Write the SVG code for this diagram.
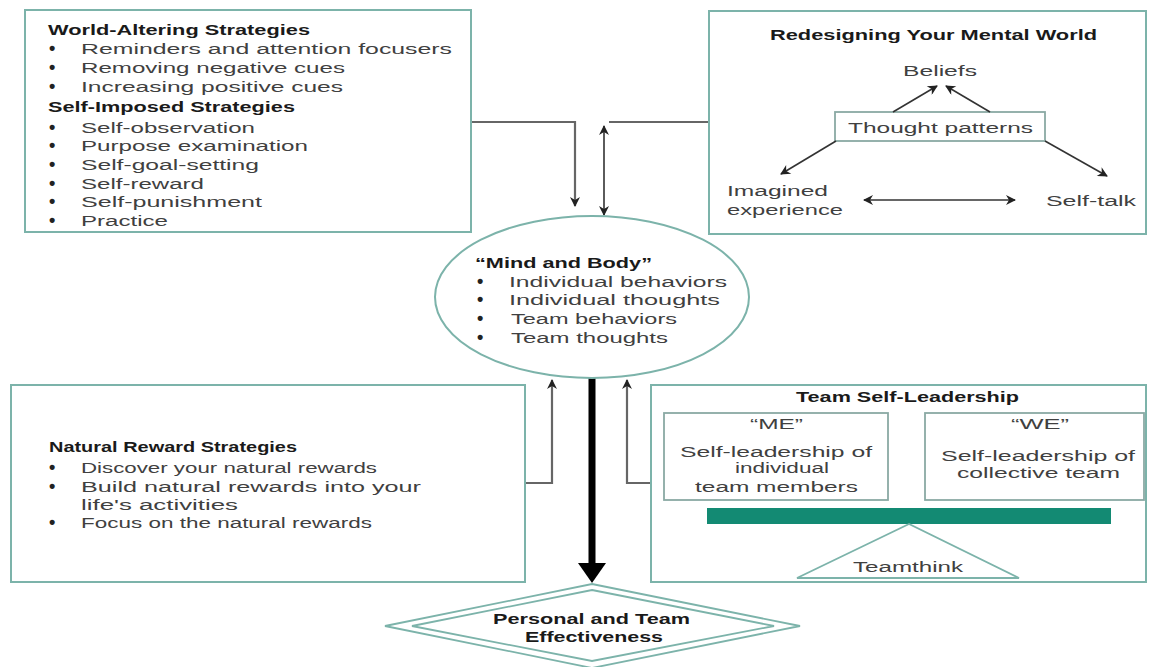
<svg xmlns="http://www.w3.org/2000/svg" width="1149" height="667" viewBox="0 0 1149 667">
<style>
.box{fill:#fff;stroke:#7cb3aa;stroke-width:2}
.inner{fill:#fff;stroke:#8aa9a4;stroke-width:1.8}
.t{font-family:"Liberation Sans",Arial,sans-serif;font-size:15.5px;fill:#404040}
.b{font-family:"Liberation Sans",Arial,sans-serif;font-size:15px;font-weight:bold;fill:#1a1a1a}
.c{text-anchor:middle}
.bl{font-family:"Liberation Sans",Arial,sans-serif;font-size:18px;font-weight:bold;fill:#222}
.ln{fill:none;stroke:#333;stroke-width:1.6}
.gl{fill:none;stroke:#666;stroke-width:2.2}
</style>
<defs>
<marker id="ah" viewBox="0 0 10 10" refX="9" refY="5" markerWidth="12" markerHeight="10" orient="auto-start-reverse" markerUnits="userSpaceOnUse">
<path d="M0,0 L10,5 L0,10 L3,5 z" fill="#222"/>
</marker>
</defs>
<rect width="1149" height="667" fill="#fff"/>

<g id="connectors">
<path class="gl" d="M471,122 H575 V206" marker-end="url(#ah)"/>
<line class="ln" x1="604" y1="126" x2="604" y2="215" marker-start="url(#ah)" marker-end="url(#ah)"/>
<path class="gl" d="M709,122 H609"/>
<path class="gl" d="M525,483 H552 V380" marker-end="url(#ah)"/>
<path class="gl" d="M651,483 H627 V380" marker-end="url(#ah)"/>
<line x1="592" y1="378" x2="592" y2="566" stroke="#000" stroke-width="7"/>
<polygon points="578,563 606,563 592,583" fill="#000"/>
</g>

<g id="world-altering">
<rect class="box" x="25" y="10" width="446" height="222"/>
<text class="b" x="48" y="35" textLength="262" lengthAdjust="spacingAndGlyphs">World-Altering Strategies</text>
<g class="bl">
<text x="49" y="54">•</text><text x="49" y="73">•</text><text x="49" y="92">•</text>
<text x="49" y="133">•</text><text x="49" y="151">•</text><text x="49" y="170">•</text>
<text x="49" y="189">•</text><text x="49" y="207">•</text><text x="49" y="226">•</text>
</g>
<g class="t">
<text x="81" y="54" textLength="371" lengthAdjust="spacingAndGlyphs">Reminders and attention focusers</text>
<text x="81" y="73" textLength="264" lengthAdjust="spacingAndGlyphs">Removing negative cues</text>
<text x="81" y="92" textLength="262" lengthAdjust="spacingAndGlyphs">Increasing positive cues</text>
</g>
<text class="b" x="48" y="112" textLength="247" lengthAdjust="spacingAndGlyphs">Self-Imposed Strategies</text>
<g class="t">
<text x="81" y="133" textLength="174" lengthAdjust="spacingAndGlyphs">Self-observation</text>
<text x="81" y="151" textLength="227" lengthAdjust="spacingAndGlyphs">Purpose examination</text>
<text x="81" y="170" textLength="178" lengthAdjust="spacingAndGlyphs">Self-goal-setting</text>
<text x="81" y="189" textLength="123" lengthAdjust="spacingAndGlyphs">Self-reward</text>
<text x="81" y="207" textLength="181" lengthAdjust="spacingAndGlyphs">Self-punishment</text>
<text x="81" y="226" textLength="87" lengthAdjust="spacingAndGlyphs">Practice</text>
</g>
</g>

<g id="mental-world">
<rect class="box" x="709" y="11" width="437" height="223"/>
<text class="b" x="770" y="40" textLength="327" lengthAdjust="spacingAndGlyphs">Redesigning Your Mental World</text>
<text class="t" x="903" y="76" textLength="74" lengthAdjust="spacingAndGlyphs">Beliefs</text>
<rect class="inner" x="835" y="112" width="210" height="29"/>
<text class="t" x="848" y="133" textLength="185" lengthAdjust="spacingAndGlyphs">Thought patterns</text>
<line class="ln" x1="893" y1="112" x2="937" y2="86" marker-end="url(#ah)"/>
<line class="ln" x1="990" y1="112" x2="946" y2="86" marker-end="url(#ah)"/>
<line class="ln" x1="836" y1="141" x2="781" y2="174" marker-end="url(#ah)"/>
<line class="ln" x1="1045" y1="141" x2="1107" y2="176" marker-end="url(#ah)"/>
<text class="t" x="727" y="196" textLength="101" lengthAdjust="spacingAndGlyphs">Imagined</text>
<text class="t" x="727" y="215" textLength="116" lengthAdjust="spacingAndGlyphs">experience</text>
<line class="ln" x1="864" y1="200" x2="1015" y2="200" marker-start="url(#ah)" marker-end="url(#ah)"/>
<text class="t" x="1046" y="206" textLength="90" lengthAdjust="spacingAndGlyphs">Self-talk</text>
</g>

<g id="mind-body">
<ellipse class="box" cx="592" cy="297" rx="157" ry="81"/>
<text class="b" x="475" y="268" textLength="177" lengthAdjust="spacingAndGlyphs">“Mind and Body”</text>
<g class="bl">
<text x="477" y="287">•</text><text x="477" y="305">•</text><text x="477" y="324">•</text><text x="477" y="343">•</text>
</g>
<g class="t">
<text x="509" y="287" textLength="218" lengthAdjust="spacingAndGlyphs">Individual behaviors</text>
<text x="509" y="305" textLength="211" lengthAdjust="spacingAndGlyphs">Individual thoughts</text>
<text x="511" y="324" textLength="166" lengthAdjust="spacingAndGlyphs">Team behaviors</text>
<text x="511" y="343" textLength="157" lengthAdjust="spacingAndGlyphs">Team thoughts</text>
</g>
</g>

<g id="natural-reward">
<rect class="box" x="11" y="385" width="514" height="197"/>
<text class="b" x="49" y="452" textLength="248" lengthAdjust="spacingAndGlyphs">Natural Reward Strategies</text>
<g class="bl">
<text x="49" y="473">•</text><text x="49" y="492">•</text><text x="49" y="528">•</text>
</g>
<g class="t">
<text x="81" y="473" textLength="296" lengthAdjust="spacingAndGlyphs">Discover your natural rewards</text>
<text x="81" y="492" textLength="340" lengthAdjust="spacingAndGlyphs">Build natural rewards into your</text>
<text x="81" y="510" textLength="157" lengthAdjust="spacingAndGlyphs">life's activities</text>
<text x="81" y="528" textLength="291" lengthAdjust="spacingAndGlyphs">Focus on the natural rewards</text>
</g>
</g>

<g id="team-self-leadership">
<rect class="box" x="651" y="385" width="495" height="197"/>
<text class="b" x="796" y="402" textLength="223" lengthAdjust="spacingAndGlyphs">Team Self-Leadership</text>
<rect class="inner" x="664" y="413" width="224" height="87"/>
<text class="t" x="750" y="429" textLength="53" lengthAdjust="spacingAndGlyphs">“ME”</text>
<text class="t" x="680" y="457" textLength="192" lengthAdjust="spacingAndGlyphs">Self-leadership of</text>
<text class="t" x="735" y="473" textLength="94" lengthAdjust="spacingAndGlyphs">individual</text>
<text class="t" x="695" y="492" textLength="163" lengthAdjust="spacingAndGlyphs">team members</text>
<rect class="inner" x="925" y="413" width="219" height="87"/>
<text class="t" x="1011" y="429" textLength="58" lengthAdjust="spacingAndGlyphs">“WE”</text>
<text class="t" x="941" y="461" textLength="194" lengthAdjust="spacingAndGlyphs">Self-leadership of</text>
<text class="t" x="957" y="478" textLength="163" lengthAdjust="spacingAndGlyphs">collective team</text>
<rect x="707" y="508" width="404" height="16" fill="#138a73"/>
<polygon points="909,524 797,578 1019,578" fill="#fff" stroke="#7cb3aa" stroke-width="1.8"/>
<text class="t" x="853" y="572" textLength="110" lengthAdjust="spacingAndGlyphs">Teamthink</text>
</g>

<g id="effectiveness">
<polygon points="592,584 800,626 592,668 385,626" fill="#fff" stroke="#7cb3aa" stroke-width="1.8"/>
<polygon points="592,590 774,626 592,661 412,626" fill="none" stroke="#7cb3aa" stroke-width="1.8"/>
<text class="b" x="493" y="624" textLength="197" lengthAdjust="spacingAndGlyphs">Personal and Team</text>
<text class="b" x="525" y="642" textLength="138" lengthAdjust="spacingAndGlyphs">Effectiveness</text>
</g>
</svg>
